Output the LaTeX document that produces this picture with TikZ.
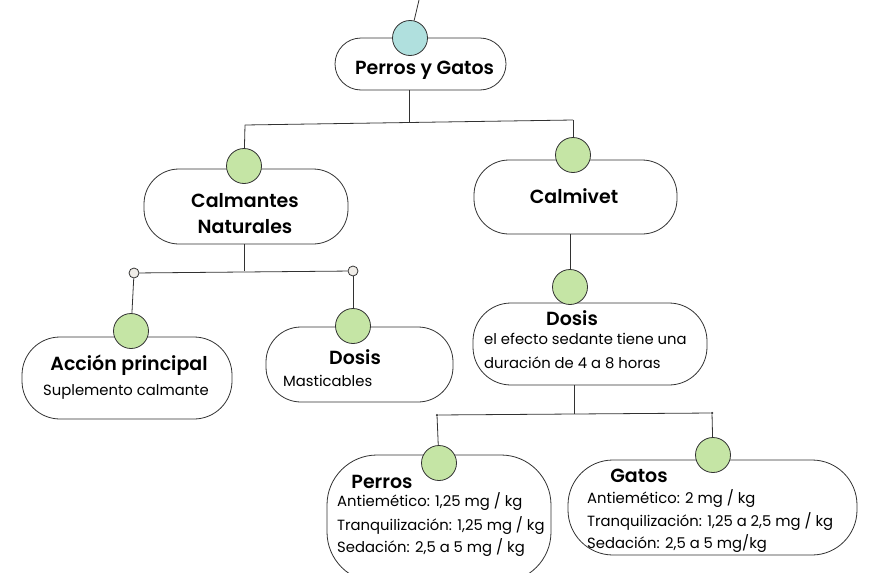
\documentclass[tikz,border=0pt]{standalone}
\usepackage{fontspec}
\setmainfont{Poppins}[BoldFont={Poppins SemiBold}]
\usepackage{tikz}
\usetikzlibrary{positioning}
\definecolor{knobgreen}{RGB}{197,229,165}
\definecolor{knobteal}{RGB}{176,224,222}
\definecolor{jointgrey}{RGB}{240,237,232}
\definecolor{linegrey}{RGB}{50,50,50}
\tikzstyle{pill}=[rectangle, draw=linegrey, line width=0.8pt, fill=white]
\tikzstyle{knob}=[circle, draw=linegrey, line width=0.8pt, minimum size=35pt, inner sep=0pt]
\tikzstyle{joint}=[circle, draw=linegrey, line width=0.8pt, fill=jointgrey, minimum size=10pt, inner sep=0pt]
\tikzstyle{tick}=[circle, fill=linegrey, minimum size=2.5pt, inner sep=0pt]
\tikzstyle{link}=[draw=linegrey, line width=0.8pt]
\tikzstyle{head}=[font=\bfseries\fontsize{19}{23}\selectfont, inner sep=0pt, anchor=base]
\tikzstyle{body}=[font=\fontsize{14.8}{22}\selectfont, inner sep=0pt, anchor=base west]
\newcommand{\pill}[5]{
	\node[pill, minimum width=#3, minimum height=#4, rounded corners=#5] (#1) at (#2) {};}
\newcommand{\knob}[3]{
	\node[knob, fill=#3] (#1) at (#2) {};}

\begin{document}
\begin{tikzpicture}[x=1pt,y=-1pt]
\useasboundingbox (0,0) rectangle (884,573);
% boxes
\pill{root}{420.5,64}{171pt}{52pt}{26pt}
\pill{calm}{246,206.5}{204pt}{75pt}{35pt}
\pill{calmivet}{575.5,197}{203pt}{74pt}{35pt}
\pill{accion}{127,378}{210pt}{82pt}{38pt}
\pill{dosisA}{359.5,364.5}{187pt}{75pt}{35pt}
\pill{dosisB}{590,344}{234pt}{82pt}{38pt}
\pill{perros}{439,518.5}{224pt}{127pt}{50pt}
\pill{gatos}{712.5,507.5}{289pt}{95pt}{45pt}
% knobs
\knob{k0}{410,38}{knobteal}
\knob{k1}{244,166}{knobgreen}
\knob{k2}{573,155}{knobgreen}
\knob{k3}{131,331}{knobgreen}
\knob{k4}{353,326}{knobgreen}
\knob{k5}{570,287}{knobgreen}
\knob{k6}{439,463}{knobgreen}
\knob{k7}{713,455}{knobgreen}
% junctions
\coordinate (top) at (419,0);
\coordinate (j1) at (409,122);
\coordinate (j1l) at (245,125);
\coordinate (j1r) at (573,120);
\coordinate (j2) at (244,271);
\node[joint] (j2l) at (134,273) {};
\node[joint] (j2r) at (353,271) {};
\coordinate (j3) at (574,414);
\node[tick] (j3l) at (437,415) {};
\node[tick] (j3r) at (712,413) {};
% connectors
\path[link] (top) -- (k0);
\path[link] (j1 |- root.south) -- (j1);
\path[link] (j1l) -- (j1r);
\path[link] (j1l) -- (k1);
\path[link] (j1r) -- (k2);
\path[link] (j2 |- calm.south) -- (j2);
\path[link] (j2l) -- (j2r);
\path[link] (j2l) -- (k3);
\path[link] (j2r) -- (k4);
\path[link] (k5 |- calmivet.south) -- (k5);
\path[link] (j3 |- dosisB.south) -- (j3);
\path[link] (j3l) -- (j3r);
\path[link] (j3l) -- (k6);
\path[link] (j3r) -- (k7);
% texts
\node[head] (t0) at (424.5,74) {Perros y Gatos};
\node[head] (t1a) at (245,207) {Calmantes};
\node[head] (t1b) at (245,233) {Naturales};
\node[head] (t2) at (574,203) {Calmivet};
\node[head] (t3) at (129,370) {Acción principal};
\node[body, anchor=base] (t3a) at (126,395) {Suplemento calmante};
\node[head] (t4) at (355,364) {Dosis};
\node[body] (t4a) at (283,386) {Masticables};
\node[head] (t5) at (572,325) {Dosis};
\node[body] (t5a) at (484,344) {el efecto sedante tiene una};
\node[body] (t5b) at (484,368) {duración de 4 a 8 horas};
\node[head] (t6) at (382,488) {Perros};
\node[body] (t6a) at (337,506) {Antiemético: 1,25 mg / kg};
\node[body] (t6b) at (337,530) {Tranquilización: 1,25 mg / kg};
\node[body] (t6c) at (337,552) {Sedación: 2,5 a 5 mg / kg};
\node[head] (t7) at (639,482) {Gatos};
\node[body] (t7a) at (587,503) {Antiemético: 2 mg / kg};
\node[body] (t7b) at (587,526) {Tranquilización: 1,25 a 2,5 mg / kg};
\node[body] (t7c) at (587,548) {Sedación: 2,5 a 5 mg/kg};
\end{tikzpicture}
\end{document}
